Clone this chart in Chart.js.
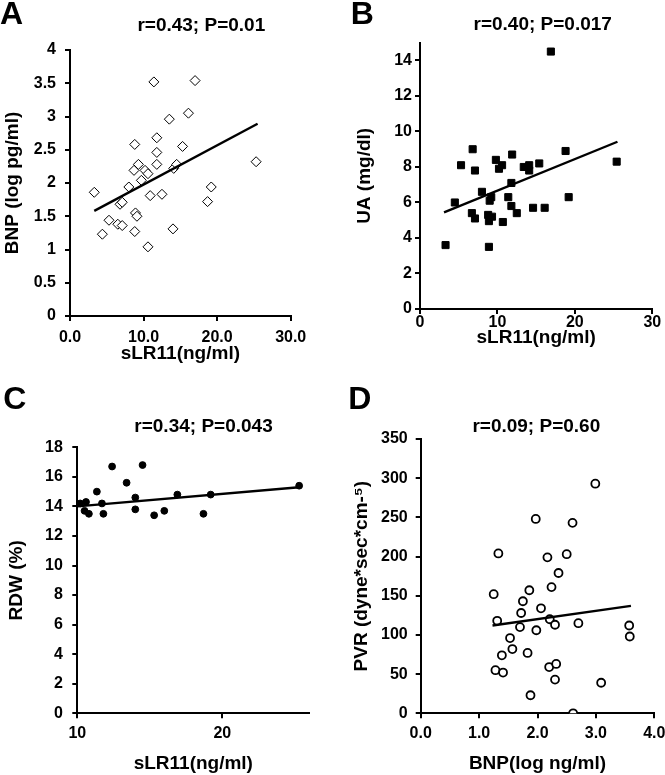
<!DOCTYPE html>
<html>
<head>
<meta charset="utf-8">
<script src="https://cdn.jsdelivr.net/npm/chart.js@4/dist/chart.umd.min.js"></script>
<style>
  html, body { margin: 0; padding: 0; background: #fff; overflow: hidden; width: 665px; height: 775px; }
  canvas { position: absolute; }
</style>
</head>
<body>
<canvas id="cA" width="330" height="390" style="left:0px;top:0px;"></canvas>
<canvas id="cB" width="335" height="390" style="left:330px;top:0px;"></canvas>
<canvas id="cC" width="330" height="395" style="left:0px;top:380px;"></canvas>
<canvas id="cD" width="345" height="395" style="left:330px;top:380px;"></canvas>
<script>
// ---------- Panel A: sLR11 vs BNP ----------
const aX = [3.3, 4.4, 5.3, 6.5, 6.8, 7.1, 7.1, 8.0, 8.7, 8.8, 8.8, 8.9, 9.1, 9.3, 9.7, 10.2, 10.6, 10.6, 10.9, 11.4, 11.8, 11.8, 11.8, 12.5, 13.5, 14.0, 14.1, 14.5, 15.3, 16.1, 17.0, 18.7, 19.2, 25.3];
const aY = [1.86, 1.23, 1.44, 1.38, 1.68, 1.71, 1.36, 1.94, 2.19, 2.58, 1.27, 1.55, 1.50, 2.28, 2.04, 2.19, 2.14, 1.04, 1.81, 3.52, 2.28, 2.68, 2.46, 1.83, 2.96, 1.31, 2.22, 2.28, 2.55, 3.05, 3.54, 1.72, 1.94, 2.32];
const aTrendX = [3.3, 25.5];
const aTrendY = [1.58, 2.89];

// ---------- Panel B: sLR11 vs UA ----------
const bX = [3.3, 4.5, 5.3, 6.7, 6.8, 7.1, 7.1, 8.0, 8.8, 8.9, 8.9, 9.0, 9.2, 9.3, 9.8, 10.2, 10.6, 10.7, 11.4, 11.8, 11.8, 11.9, 12.5, 13.4, 14.1, 14.1, 14.6, 15.4, 16.1, 16.9, 18.8, 19.2, 25.4];
const bY = [3.6, 6.0, 8.1, 5.4, 9.0, 7.8, 5.1, 6.6, 5.3, 3.5, 4.95, 6.1, 6.3, 5.2, 8.4, 7.9, 8.1, 4.9, 6.3, 5.8, 7.1, 8.7, 5.4, 8.0, 7.8, 8.1, 5.7, 8.2, 5.7, 14.5, 8.9, 6.3, 8.3];
const bTrendX = [3.1, 25.5];
const bTrendY = [5.44, 9.42];

// ---------- Panel C: sLR11 vs RDW ----------
const cX = [10.2, 10.6, 10.5, 10.8, 11.35, 11.7, 11.8, 12.4, 13.4, 14.0, 14.0, 14.5, 15.3, 16.0, 16.9, 18.7, 19.2, 25.3];
const cY = [14.2, 14.3, 13.7, 13.5, 15.0, 14.2, 13.5, 16.7, 15.6, 14.6, 13.8, 16.8, 13.4, 13.7, 14.8, 13.5, 14.8, 15.4];
const cTrendX = [10.0, 25.3];
const cTrendY = [14.0, 15.3];

// ---------- Panel D: BNP vs PVR ----------
const dX = [1.25, 1.28, 1.33, 1.31, 1.39, 1.41, 1.53, 1.57, 1.70, 1.72, 1.75, 1.83, 1.86, 1.88, 1.97, 1.98, 2.06, 2.17, 2.21, 2.20, 2.24, 2.30, 2.32, 2.30, 2.36, 2.50, 2.60, 2.61, 2.70, 2.99, 3.09, 3.57, 3.58];
const dY = [152, 55, 204, 118, 74, 52, 96, 82, 110, 128, 143, 77, 157, 23, 248, 106, 134, 199, 120, 59, 161, 113, 63, 43, 179, 203, 243, 0, 115, 293, 39, 112, 98];
const dTrendX = [1.23, 3.60];
const dTrendY = [112, 137];

// ---------- Text ----------
const panelLetters = ["A", "B", "C", "D"];
const panelTitles = ["r=0.43; P=0.01", "r=0.40; P=0.017", "r=0.34; P=0.043", "r=0.09; P=0.60"];
const xTitles = ["sLR11(ng/ml)", "sLR11(ng/ml)", "sLR11(ng/ml)", "BNP(log ng/ml)"];
const yTitles = ["BNP (log pg/ml)", "UA (mg/dl)", "RDW (%)", "PVR (dyne*sec*cm-\u2075)"];

const FAM = "'Liberation Sans', Arial, Helvetica, sans-serif";
const TICK_SIZE = 16;
const AXIS_TITLE_SIZE = 19;

function pts(xs, ys) { return xs.map((x, i) => ({x: x, y: ys[i]})); }

const panelText = {
  id: 'panelText',
  afterDraw(chart, args, o) {
    const ctx = chart.ctx;
    ctx.save();
    ctx.fillStyle = '#000';
    ctx.textBaseline = 'alphabetic';
    ctx.font = 'bold 32px ' + FAM;
    ctx.textAlign = 'left';
    ctx.fillText(o.letter, o.lx, o.ly);
    ctx.font = 'bold 19px ' + FAM;
    ctx.textAlign = 'center';
    ctx.fillText(o.title, o.tx, o.ty);
    ctx.restore();
  }
};

function xAxis(p) {
  return {
    type: 'linear', position: 'bottom', min: p.min, max: p.max, offset: false,
    grid: {display: true, drawOnChartArea: false, drawTicks: true, tickLength: 5, color: '#000', lineWidth: 2},
    border: {display: true, color: '#000', width: 2},
    ticks: {stepSize: p.step, includeBounds: false, autoSkip: false, maxRotation: 0, padding: p.tickPad,
            color: '#000', font: {family: FAM, size: TICK_SIZE, weight: 'bold'}, callback: p.fmt},
    title: {display: true, text: p.title, color: '#000', font: {family: FAM, size: AXIS_TITLE_SIZE, weight: 'bold'},
            padding: {top: 0, bottom: p.titlePad}},
    afterFit(s) { s.height = p.size; }
  };
}
function yAxis(p) {
  return {
    type: 'linear', position: 'left', min: p.min, max: p.max,
    grid: {display: true, drawOnChartArea: false, drawTicks: true, tickLength: 5, color: '#000', lineWidth: 2},
    border: {display: true, color: '#000', width: 2},
    ticks: {stepSize: p.step, includeBounds: false, autoSkip: false, padding: p.tickPad,
            color: '#000', font: {family: FAM, size: TICK_SIZE, weight: 'bold'}, callback: p.fmt},
    title: {display: true, text: p.title, color: '#000', font: {family: FAM, size: AXIS_TITLE_SIZE, weight: 'bold'},
            padding: {top: p.titlePad, bottom: 0}},
    afterFit(s) { s.width = p.size; }
  };
}

function trendSet(xs, ys) {
  return {data: pts(xs, ys), showLine: true, borderColor: '#000', borderWidth: 2.4, pointRadius: 0, fill: false};
}

function build(id, cfg) {
  new Chart(document.getElementById(id), {
    type: 'scatter',
    data: {datasets: [trendSet(cfg.tx, cfg.ty), cfg.points]},
    options: {
      responsive: false, animation: false, events: [], devicePixelRatio: 1,
      layout: {padding: cfg.pad},
      plugins: {legend: {display: false}, tooltip: {enabled: false}, panelText: cfg.text},
      scales: {x: xAxis(cfg.x), y: yAxis(cfg.y)}
    },
    plugins: [panelText]
  });
}

const fmt1 = v => Number(v).toFixed(1);
const fmtPlain = v => String(+Number(v).toFixed(2));

// Panel A
build('cA', {
  tx: aTrendX, ty: aTrendY,
  points: {data: pts(aX, aY), pointStyle: 'rectRot', pointRadius: 5, borderWidth: 1, borderColor: '#000', backgroundColor: '#fff'},
  pad: {top: 50, right: 39.3, bottom: 0, left: 0},
  text: {letter: panelLetters[0], lx: 0, ly: 24, title: panelTitles[0], tx: 201.3, ty: 30.5},
  x: {min: 0, max: 30, step: 10, fmt: fmt1, title: xTitles[0], tickPad: 7.4, titlePad: 25.3, size: 74},
  y: {min: 0, max: 4, step: 0.5, fmt: fmtPlain, title: yTitles[0], tickPad: 9, titlePad: 1.6, size: 70}
});

// Panel B
build('cB', {
  tx: bTrendX, ty: bTrendY,
  points: {data: pts(bX, bY), pointStyle: 'rect', pointRadius: 5, borderWidth: 1, borderColor: '#000', backgroundColor: '#000'},
  pad: {top: 42.7, right: 12.7, bottom: 0, left: 0},
  text: {letter: panelLetters[1], lx: 20.7, ly: 24, title: panelTitles[1], tx: 212.7, ty: 30},
  x: {min: 0, max: 30, step: 10, fmt: fmtPlain, title: xTitles[1], tickPad: -1.2, titlePad: 41.3, size: 81},
  y: {min: 0, max: 15, step: 2, fmt: fmtPlain, title: yTitles[1], tickPad: 3, titlePad: 22.9, size: 90}
});

// Panel C
build('cC', {
  tx: cTrendX, ty: cTrendY,
  points: {data: pts(cX, cY), pointStyle: 'circle', pointRadius: 3.4, borderWidth: 1, borderColor: '#000', backgroundColor: '#000'},
  pad: {top: 67.3, right: 20.7, bottom: 0, left: 0},
  text: {letter: panelLetters[2], lx: 3.3, ly: 28.7, title: panelTitles[2], tx: 203.5, ty: 51.7},
  x: {min: 10, max: 26, step: 10, fmt: fmtPlain, title: xTitles[2], tickPad: 5.4, titlePad: 0.3, size: 61.7},
  y: {min: 0, max: 18, step: 2, fmt: fmtPlain, title: yTitles[2], tickPad: 9.5, titlePad: 5.3, size: 77.3}
});

// Panel D
build('cD', {
  tx: dTrendX, ty: dTrendY,
  points: {data: pts(dX, dY), pointStyle: 'circle', pointRadius: 4, borderWidth: 1.8, borderColor: '#000', backgroundColor: '#fff'},
  pad: {top: 59, right: 20.7, bottom: 0, left: 0},
  text: {letter: panelLetters[3], lx: 18.3, ly: 28.7, title: panelTitles[3], tx: 206.3, ty: 51.7},
  x: {min: 0, max: 4, step: 1, fmt: fmt1, title: xTitles[3], tickPad: 5.4, titlePad: 0, size: 61.7},
  y: {min: 0, max: 350, step: 50, fmt: fmtPlain, title: yTitles[3], tickPad: 8, titlePad: 20.3, size: 90.7}
});
</script>
</body>
</html>
